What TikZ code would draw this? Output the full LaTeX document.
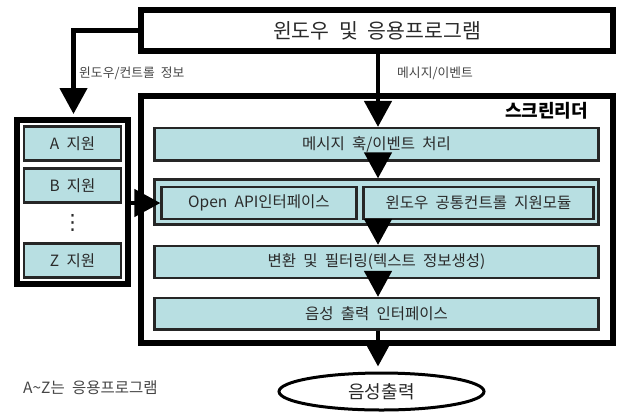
\documentclass[tikz,border=0pt]{standalone}
\usepackage{fontspec}
\setmainfont[WordSpace=2.1]{Noto Sans CJK KR}
\newfontfamily\symfont{DejaVu Sans}
\usetikzlibrary{arrows.meta,shapes.geometric}
\definecolor{modfill}{HTML}{B8DFE2}
\definecolor{ink}{HTML}{2A2A2A}
\definecolor{softink}{HTML}{454545}
\begin{document}
\begin{tikzpicture}[x=1bp,y=-1bp,
  frame/.style={draw=black,line width=6bp,fill=white,inner sep=0pt},
  module/.style={draw=black!85,line width=2.2bp,fill=modfill,inner sep=0pt,
    text=ink,font=\fontsize{15.5bp}{17bp}\selectfont},
  flow/.style={line width=4.5bp,-{Triangle[length=26bp,width=27bp]}},
  tag/.style={inner sep=0pt,text=softink,font=\fontsize{12.8bp}{14bp}\selectfont}]
\useasboundingbox (0,0) rectangle (618,412);

% applications and the screen reader frame
\node[frame,minimum width=472bp,minimum height=41bp,text=ink,
  font=\fontsize{20.5bp}{22bp}\selectfont] (apps) at (377,30.5) {윈도우 및 응용프로그램};
\node[frame,minimum width=471.5bp,minimum height=247bp] (reader) at (376.75,219.5) {};
\node[inner sep=0pt,anchor=east,font=\bfseries\fontsize{18bp}{20bp}\selectfont] (readertitle) at (588,111) {스크린리더};

% per-application support panel
\node[frame,minimum width=111bp,minimum height=163.5bp] (panel) at (72.5,201.75) {};
\node[module,minimum width=97bp,minimum height=34bp] (supA) at (72.5,143.5) {A 지원};
\node[module,minimum width=97bp,minimum height=34bp] (supB) at (72.5,185.5) {B 지원};
\node[inner sep=0pt,text=ink,font=\symfont\fontsize{21bp}{23bp}\selectfont] (dots) at (72.5,222.5) {⋮};
\node[module,minimum width=97bp,minimum height=34bp] (supZ) at (72.5,260.5) {Z 지원};

% processing stages
\node[module,minimum width=444bp,minimum height=32.5bp] (hook) at (376.5,144.25) {메시지 훅/이벤트 처리};
\node[module,minimum width=444bp,minimum height=45bp] (hub) at (376.5,202) {};
\node[module,minimum width=195bp,minimum height=32bp] (api) at (259,203) {Open API인터페이스};
\node[module,minimum width=230bp,minimum height=32bp] (common) at (478.5,203) {윈도우 공통컨트롤 지원모듈};
\node[module,minimum width=444bp,minimum height=32bp] (conv) at (376.5,262) {변환 및 필터링(텍스트 정보생성)};
\node[module,minimum width=444bp,minimum height=31.5bp] (tts) at (376.5,313.75) {음성 출력 인터페이스};

\node[ellipse,draw=black,line width=3bp,fill=white,minimum width=205bp,minimum height=37bp,
  inner sep=0pt,text=ink,font=\fontsize{18bp}{20bp}\selectfont] (speech) at (381.5,391.5) {음성출력};

% connectors
\coordinate (spine) at (378,0);
\coordinate (drop) at (73.5,0);
\draw[flow] (apps.south -| spine) -- (hook.north -| spine);
\draw[flow] (hook.south -| spine) -- (hub.north -| spine);
\draw[flow] (hub.south -| spine) -- (conv.north -| spine);
\draw[flow] (conv.south -| spine) -- (tts.north -| spine);
\draw[flow,shorten >=5bp] (tts.south -| spine) -- (speech.north -| spine);
\draw[flow,shorten >=3bp] (apps.west) -| (panel.north -| drop);
\draw[flow] (panel.east |- api.west) -- (api.west);

% labels
\node[tag,anchor=west] (infolabel) at (79,73) {윈도우/컨트롤 정보};
\node[tag,anchor=west] (msglabel) at (397,73) {메시지/이벤트};
\node[inner sep=0pt,anchor=west,text=softink,font=\fontsize{15.5bp}{17bp}\selectfont] (note) at (23,388) {A\textasciitilde Z는 응용프로그램};
\end{tikzpicture}
\end{document}
